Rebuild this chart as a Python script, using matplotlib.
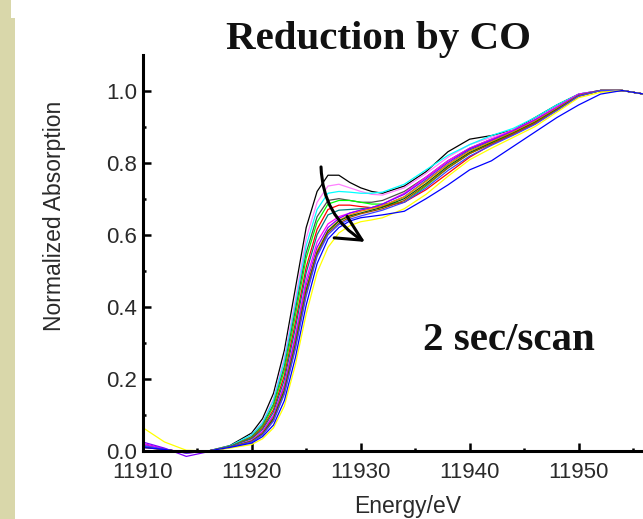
"""
Reduction by CO -- time-resolved XANES (2 sec/scan), normalized absorption vs energy.
Output: out.png (643x519)
"""

import matplotlib
matplotlib.use("Agg")
import matplotlib.pyplot as plt
from matplotlib.patches import Rectangle
from matplotlib.ticker import MultipleLocator

# --- data --------------------------------------------------------------------
energy = [11910, 11912, 11914, 11916, 11918, 11920, 11921, 11922, 11923, 11924,
          11925, 11926, 11927, 11928, 11929, 11930, 11931, 11932, 11934, 11936,
          11938, 11940, 11942, 11944, 11946, 11948, 11950, 11952, 11954, 11956]

scan_colors = ["#000000", "#ff80ff", "#00ffff", "#505050", "#00ff00",
               "#ff0000", "#008080", "#ff00ff", "#8000ff", "#ff8000",
               "#006400", "#a05000", "#4040ff", "#ffff00", "#0000ff"]

scan_01 = [0.020, 0.005, -0.005, 0.000, 0.015, 0.050, 0.090, 0.160, 0.280, 0.450,
           0.620, 0.720, 0.765, 0.765, 0.745, 0.730, 0.720, 0.715, 0.735, 0.775,
           0.830, 0.865, 0.875, 0.890, 0.925, 0.960, 0.990, 1.000, 1.000, 0.990]
scan_02 = [0.015, 0.005, -0.005, 0.000, 0.012, 0.045, 0.080, 0.145, 0.260, 0.420,
           0.590, 0.690, 0.735, 0.740, 0.730, 0.720, 0.712, 0.710, 0.730, 0.770,
           0.815, 0.850, 0.870, 0.890, 0.920, 0.955, 0.988, 1.000, 1.000, 0.990]
scan_03 = [0.012, 0.004, -0.004, 0.000, 0.014, 0.045, 0.078, 0.140, 0.250, 0.405,
           0.570, 0.670, 0.715, 0.720, 0.718, 0.715, 0.715, 0.718, 0.740, 0.780,
           0.820, 0.850, 0.875, 0.895, 0.925, 0.960, 0.990, 1.000, 1.000, 0.990]
scan_04 = [0.015, 0.004, -0.004, 0.000, 0.012, 0.040, 0.072, 0.130, 0.235, 0.390,
           0.550, 0.650, 0.695, 0.700, 0.695, 0.690, 0.690, 0.695, 0.720, 0.760,
           0.805, 0.840, 0.865, 0.885, 0.915, 0.950, 0.985, 1.000, 1.000, 0.990]
scan_05 = [0.012, 0.004, -0.004, 0.000, 0.012, 0.038, 0.068, 0.125, 0.225, 0.375,
           0.535, 0.635, 0.685, 0.695, 0.695, 0.690, 0.685, 0.685, 0.690, 0.735,
           0.785, 0.825, 0.855, 0.880, 0.910, 0.945, 0.985, 1.000, 1.000, 0.990]
scan_06 = [0.012, 0.004, -0.004, 0.000, 0.012, 0.036, 0.064, 0.115, 0.210, 0.355,
           0.510, 0.615, 0.670, 0.682, 0.682, 0.678, 0.675, 0.678, 0.690, 0.725,
           0.770, 0.815, 0.850, 0.878, 0.908, 0.946, 0.984, 1.000, 1.000, 0.990]
scan_07 = [0.014, 0.004, -0.004, 0.000, 0.012, 0.034, 0.060, 0.108, 0.198, 0.340,
           0.495, 0.600, 0.655, 0.668, 0.670, 0.672, 0.675, 0.680, 0.705, 0.750,
           0.795, 0.835, 0.860, 0.885, 0.915, 0.950, 0.988, 1.000, 1.000, 0.990]
scan_08 = [0.020, 0.006, -0.006, 0.000, 0.010, 0.030, 0.055, 0.100, 0.185, 0.320,
           0.475, 0.580, 0.630, 0.650, 0.660, 0.668, 0.675, 0.685, 0.715, 0.760,
           0.805, 0.840, 0.865, 0.890, 0.920, 0.955, 0.990, 1.000, 1.000, 0.990]
scan_09 = [0.025, 0.008, -0.015, -0.002, 0.010, 0.028, 0.052, 0.095, 0.178, 0.310,
           0.460, 0.565, 0.620, 0.645, 0.660, 0.668, 0.675, 0.685, 0.712, 0.755,
           0.800, 0.838, 0.862, 0.888, 0.918, 0.952, 0.988, 1.000, 1.000, 0.990]
scan_10 = [0.010, 0.004, -0.004, 0.000, 0.010, 0.028, 0.050, 0.092, 0.172, 0.300,
           0.450, 0.555, 0.612, 0.640, 0.655, 0.665, 0.672, 0.680, 0.705, 0.748,
           0.795, 0.832, 0.858, 0.885, 0.915, 0.950, 0.986, 1.000, 1.000, 0.990]
scan_11 = [0.012, 0.004, -0.004, 0.000, 0.010, 0.027, 0.048, 0.090, 0.168, 0.295,
           0.445, 0.550, 0.610, 0.638, 0.652, 0.660, 0.668, 0.676, 0.700, 0.742,
           0.790, 0.828, 0.855, 0.882, 0.912, 0.948, 0.985, 1.000, 1.000, 0.990]
scan_12 = [0.010, 0.004, -0.004, 0.000, 0.010, 0.026, 0.046, 0.086, 0.162, 0.288,
           0.438, 0.545, 0.605, 0.632, 0.648, 0.658, 0.665, 0.672, 0.695, 0.738,
           0.785, 0.825, 0.852, 0.880, 0.910, 0.946, 0.984, 1.000, 1.000, 0.990]
scan_13 = [0.015, 0.005, -0.006, 0.000, 0.010, 0.025, 0.045, 0.083, 0.158, 0.282,
           0.430, 0.540, 0.600, 0.628, 0.643, 0.652, 0.660, 0.668, 0.690, 0.730,
           0.778, 0.818, 0.848, 0.876, 0.906, 0.944, 0.984, 1.000, 1.000, 0.990]
scan_14 = [0.065, 0.025, 0.002, 0.000, 0.008, 0.018, 0.034, 0.064, 0.125, 0.238,
           0.380, 0.495, 0.565, 0.605, 0.625, 0.636, 0.641, 0.647, 0.672, 0.712,
           0.762, 0.808, 0.840, 0.870, 0.900, 0.940, 0.980, 0.995, 1.000, 0.990]
scan_15 = [0.010, 0.004, -0.004, 0.000, 0.010, 0.022, 0.040, 0.072, 0.140, 0.258,
           0.405, 0.520, 0.588, 0.620, 0.638, 0.647, 0.651, 0.655, 0.665, 0.700,
           0.738, 0.780, 0.805, 0.845, 0.885, 0.925, 0.960, 0.990, 1.000, 0.990]

scans = [scan_01, scan_02, scan_03, scan_04, scan_05, scan_06, scan_07, scan_08,
         scan_09, scan_10, scan_11, scan_12, scan_13, scan_14, scan_15]

# arrow showing the white-line drop with time (start -> end, energy / absorption)
arrow_start = (11926.36, 0.788)
arrow_end = (11930.39, 0.580)

x_ticks = [11910, 11920, 11930, 11940, 11950]
y_ticks = [0.0, 0.2, 0.4, 0.6, 0.8, 1.0]


def main():
    W, H = 643, 519
    fig = plt.figure(figsize=(W / 100, H / 100), dpi=100)

    # khaki slide strip on the left edge
    strip = "#d9d7aa"
    fig.patches.append(Rectangle((0, 0), 15 / W, 1 - 18 / H, transform=fig.transFigure,
                                 facecolor=strip, edgecolor="none", zorder=0))
    fig.patches.append(Rectangle((0, 1 - 18 / H), 11 / W, 18 / H, transform=fig.transFigure,
                                 facecolor=strip, edgecolor="none", zorder=0))

    left, bottom, top = 142.7, 451.0, 55.0
    ax = fig.add_axes([left / W, 1 - bottom / H, 1 - left / W, (bottom - top) / H])
    ax.set_facecolor("none")

    for vals, col in zip(scans, scan_colors):
        ax.plot(energy, vals, color=col, lw=0.9, clip_on=False, zorder=2)

    ax.set_xlim(11910, 11910 + (W - left) / 10.9)
    ax.set_ylim(0, (bottom - top) / 360.5)

    ax.annotate("", xy=arrow_end, xytext=arrow_start,
                arrowprops=dict(arrowstyle="->,head_length=0.9,head_width=0.45",
                                connectionstyle="arc3,rad=0.27", lw=2.2,
                                color="k", shrinkA=0, shrinkB=0,
                                mutation_scale=20), zorder=5)

    for s in ("top", "right"):
        ax.spines[s].set_visible(False)
    for s in ("left", "bottom"):
        ax.spines[s].set_linewidth(2.2)

    ax.set_xticks(x_ticks)
    ax.set_xticklabels([str(t) for t in x_ticks])
    ax.set_yticks(y_ticks)
    ax.set_yticklabels([f"{t:.1f}" for t in y_ticks])
    ax.xaxis.set_minor_locator(MultipleLocator(5))
    ax.yaxis.set_minor_locator(MultipleLocator(0.1))
    ax.tick_params(which="major", direction="in", length=6, width=1.8,
                   labelsize=16, labelcolor="#2a2a2a")
    ax.tick_params(which="minor", direction="in", length=2.5, width=1.8)
    ax.tick_params(axis="x", which="major", pad=8)
    ax.tick_params(axis="y", which="major", pad=4)
    for lab in ax.get_xticklabels() + ax.get_yticklabels():
        lab.set_fontfamily("Liberation Sans")

    fig.text(55 / W, 1 - 216 / H, "Normalized Absorption", rotation=90,
             ha="center", va="center", fontsize=16.5, color="#2a2a2a",
             family="Liberation Sans")
    fig.text(408 / W, 1 - 513 / H, "Energy/eV", ha="center", va="baseline",
             fontsize=16.5, color="#2a2a2a", family="Liberation Sans")

    fig.text(378 / W, 1 - 49 / H, "Reduction by CO", ha="center", va="baseline",
             fontsize=29.5, fontweight="bold", family="Liberation Serif",
             color="#111111")
    fig.text(509 / W, 1 - 350 / H, "2 sec/scan", ha="center", va="baseline",
             fontsize=29.5, fontweight="bold", family="Liberation Serif",
             color="#111111")

    fig.savefig("out.png", dpi=100)


if __name__ == "__main__":
    main()
